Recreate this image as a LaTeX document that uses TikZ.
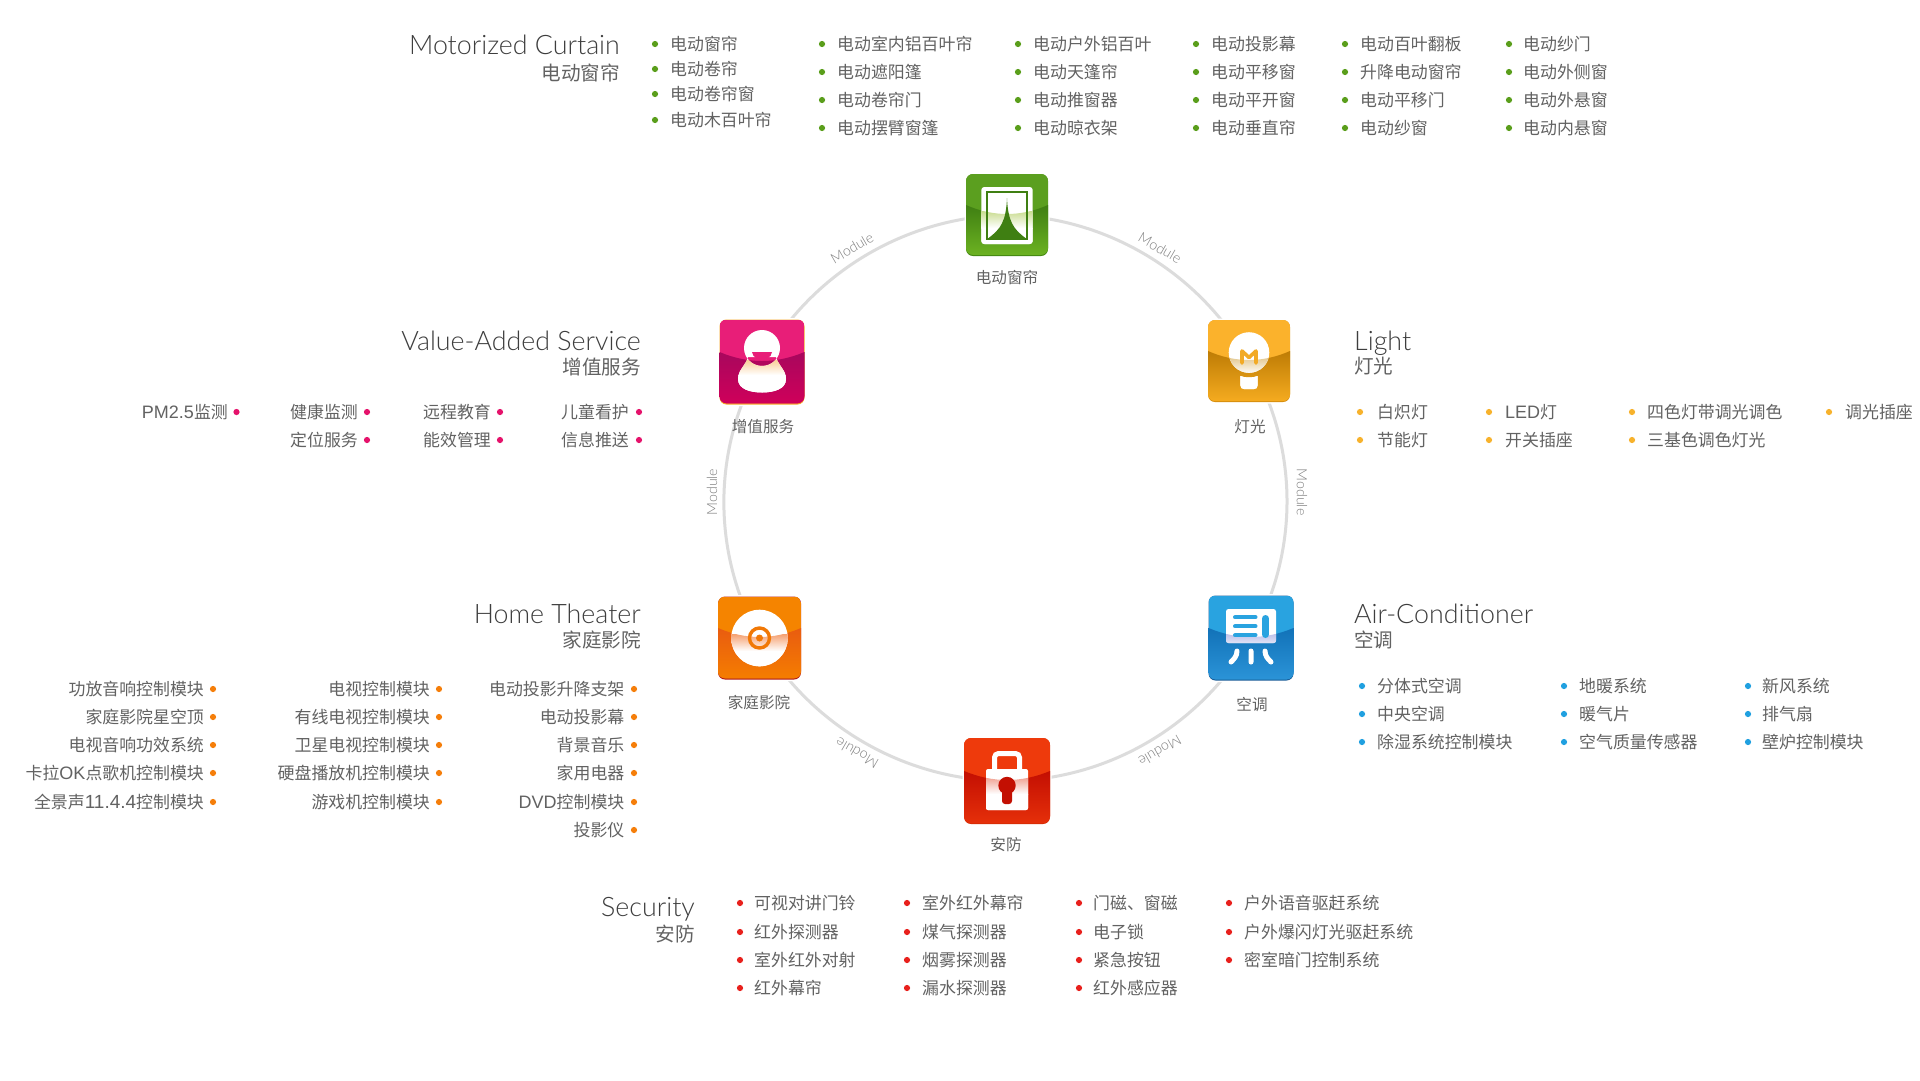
\documentclass[tikz,border=0pt]{standalone}
\usepackage{fontspec}
\setmainfont{Noto Sans CJK SC}
\newfontfamily\latfont{Lato Light}
\newfontfamily\mixlat{Liberation Sans}
\newcommand{\lf}{\mixlat\fontsize{18}{20}\selectfont}
\newcommand{\lfw}{\mixlat\fontsize{19}{20}\selectfont}
\usetikzlibrary{backgrounds}
\definecolor{ink}{HTML}{626262}
\definecolor{titleink}{HTML}{3E3E3E}
\definecolor{ringc}{HTML}{DCDCDC}
\definecolor{modc}{HTML}{7E7E7E}
\definecolor{bgreen}{HTML}{5A9E1B}
\definecolor{byellow}{HTML}{F7B22C}
\definecolor{bpink}{HTML}{E5126B}
\definecolor{borange}{HTML}{F57E0A}
\definecolor{bblue}{HTML}{20A0E0}
\definecolor{bred}{HTML}{E8201C}
% icon palettes: T top, D dark band, L lower, B border, G gloss tint
\definecolor{gT}{HTML}{5B9F1F}\definecolor{gD}{HTML}{3F7F12}\definecolor{gL}{HTML}{6DB322}\definecolor{gB}{HTML}{468A12}\definecolor{gG}{HTML}{C9DC90}
\definecolor{yT}{HTML}{FBB22C}\definecolor{yD}{HTML}{BE7C05}\definecolor{yL}{HTML}{F6AC20}\definecolor{yB}{HTML}{D9900F}\definecolor{yG}{HTML}{E3C78E}
\definecolor{pT}{HTML}{E81E78}\definecolor{pD}{HTML}{A8075D}\definecolor{pL}{HTML}{D0005A}\definecolor{pB}{HTML}{F5A623}\definecolor{pG}{HTML}{F9C98A}
\definecolor{oT}{HTML}{F58400}\definecolor{oD}{HTML}{E95C10}\definecolor{oL}{HTML}{F57E00}\definecolor{oB}{HTML}{B01818}\definecolor{oG}{HTML}{F5A070}
\definecolor{uT}{HTML}{29A3E0}\definecolor{uD}{HTML}{1272B8}\definecolor{uL}{HTML}{2B94D8}\definecolor{uB}{HTML}{1A5C98}\definecolor{uG}{HTML}{BEC2EA}
\definecolor{rT}{HTML}{EE3A0C}\definecolor{rD}{HTML}{C30F02}\definecolor{rL}{HTML}{E6300A}\definecolor{rB}{HTML}{D92C05}\definecolor{rG}{HTML}{F0A090}
\newcounter{itm}
\tikzset{
  x=1pt,y=-1pt,
  listtext/.style={text=ink,inner sep=0pt,font=\fontsize{16.9}{20}\selectfont},
  dotb/.style={circle,inner sep=0pt,minimum size=6.2pt,fill=#1},
  ttl/.style={text=titleink,inner sep=0pt,font=\latfont\fontsize{26.8}{30}\selectfont},
  subttl/.style={text=ink,inner sep=0pt,font=\fontsize{19.6}{23}\selectfont},
  iconlab/.style={text=ink,inner sep=0pt,anchor=base,font=\fontsize{15.6}{19}\selectfont},
  modlab/.style={text=modc,inner sep=0pt,font=\latfont\fontsize{14.2}{16}\selectfont},
  ringarc/.style={draw=ringc,line width=3pt,looseness=0.91},
  iconbody/.style={rectangle,rounded corners=7pt,draw=white,line width=3pt,inner sep=0pt}
}
% left-reading column: bullet x, text x, colour, y/text list
\newcommand{\colL}[4]{\foreach \yy/\ttx in {#4}{\stepcounter{itm}
  \node[dotb=#3] (b\arabic{itm}) at (#1,\yy) {};
  \node[listtext,anchor=base west] (t\arabic{itm}) at (#2,\yy+6.8) {\ttx};}}
% right-aligned column: text right x, bullet x, colour, y/text list
\newcommand{\colR}[4]{\foreach \yy/\ttx in {#4}{\stepcounter{itm}
  \node[dotb=#3] (b\arabic{itm}) at (#2,\yy) {};
  \node[listtext,anchor=base east] (t\arabic{itm}) at (#1,\yy+6.8) {\ttx};}}
% name, cx, cy, half size, palette, glyph path, details
\newcommand{\glossicon}[7]{%
  \node[iconbody,minimum size=2*#4 pt] (#1) at (#2,#3) {};
  \begin{scope}[shift={(#2,#3)}]
    \fill[#5B,rounded corners=7pt] (-#4,-#4) rectangle (#4,#4);
    \begin{scope}
      \clip[rounded corners=7pt] (-#4,-#4) rectangle (#4,#4-1.2);
      \fill[#5T] (-#4,-#4) rectangle (#4,#4);
      \shade[top color=#5D,bottom color=#5L] (-#4,-10) .. controls (-14,2) and (14,2) .. (#4,-10) -- (#4,#4) -- (-#4,#4) -- cycle;
    \end{scope}
    \fill[white] #6;
    \begin{scope}
      \clip #6;
      \clip (-#4,-10) .. controls (-14,2) and (14,2) .. (#4,-10) -- (#4,#4) -- (-#4,#4) -- cycle;
      \shade[top color=#5G,bottom color=white] (-#4,-4) rectangle (#4,13);
      \fill[white] (-#4,13) rectangle (#4,#4);
    \end{scope}
    #7
  \end{scope}}
\begin{document}
\begin{tikzpicture}
\useasboundingbox (0,0) rectangle (1920,1080);
% icons
\glossicon{curtain}{1007}{215}{41}{g}
  {[rounded corners=3pt] (-25.7,-28) rectangle (25.7,29)}
  {\draw[gD,line width=1.2pt] (-20,-23) rectangle (20,24);
   \fill[gD] (0,-17) .. controls (1,6) and (6,14) .. (19,23.4) -- (-19,23.4) .. controls (-6,14) and (-1,6) .. (0,-17) -- cycle;}
\glossicon{light}{1249}{361}{41}{y}
  {(0,-8.5) circle (20.3) (-8.7,15) .. controls (-4,17) and (4,17) .. (8.7,15) -- (8.7,24) .. controls (8.7,27) and (7,28) .. (5,28) -- (-5,28) .. controls (-7,28) and (-8.7,27) .. (-8.7,24) -- cycle}
  {\draw[yT!85!yD,line width=3.6pt,line cap=round,line join=round] (-7,2) -- (-7,-10) -- (0,-3.5) -- (7,-10) -- (7,2);}
\glossicon{service}{762}{362}{42.5}{p}
  {(0,-14) circle (18) (-14,-5) .. controls (-16,3) and (-24,8) .. (-24,17) .. controls (-24,27) and (-12,30.5) .. (0,30.5) .. controls (12,30.5) and (24,27) .. (24,17) .. controls (24,8) and (16,3) .. (14,-5) -- cycle}
  {\fill[pT] (-10,-10) -- (10,-10) .. controls (9,-4) and (4,-2.5) .. (0,-2.5) .. controls (-4,-2.5) and (-9,-4) .. (-10,-10) -- cycle;}
\glossicon{theater}{759.5}{638}{41.5}{o}
  {(0,0) circle (28.3)}
  {\draw[oT!70!oD,line width=3.4pt] (0,0) circle (10);
   \fill[oT!70!oD] (0,0) circle (3.5);}
\glossicon{aircon}{1251}{638}{42.5}{u}
  {[rounded corners=2.5pt] (-25,-29) rectangle (25,5)}
  {\draw[uT,line width=4pt,line cap=round] (-16,-20.7) -- (4.5,-20.7) (-16,-11.7) -- (4.5,-11.7) (-16,-2.7) -- (4.5,-2.7);
   \draw[uT,line width=7pt,line cap=round] (14.5,-19.5) -- (14.5,-3.5);
   \draw[white,line width=5pt,line cap=round] (0,13) -- (0,24) (-14,13) .. controls (-14,18) and (-17,21) .. (-20,24) (14,13) .. controls (14,18) and (17,21) .. (20,24);}
\glossicon{security}{1007}{781}{43}{r}
  {[rounded corners=2pt] (-21,-12) rectangle (21,29)}
  {\draw[white,line width=5pt,rounded corners=4pt] (-12.5,-10) -- (-12.5,-27.5) -- (12.5,-27.5) -- (12.5,-10);
   \fill[rD] (0,4.5) circle (8.7);
   \fill[rD,rounded corners=3pt] (-5,6) -- (-5,23) -- (5,23) -- (5,6) -- cycle;}
% ring (behind the icons)
\begin{scope}[on background layer]
  \fill[white] (0,0) rectangle (1920,1080);
  \draw[ringarc] (curtain.center) to[bend left=30] (light.center);
  \draw[ringarc] (light.center) to[bend left=30] (aircon.center);
  \draw[ringarc] (aircon.center) to[bend left=30] (security.center);
  \draw[ringarc] (security.center) to[bend left=30] (theater.center);
  \draw[ringarc] (theater.center) to[bend left=30] (service.center);
  \draw[ringarc] (service.center) to[bend left=30] (curtain.center);
\end{scope}
% module labels
\node[modlab,rotate=-30] (m1) at (1160,248) {Module};
\node[modlab,rotate=-90] (m2) at (1302,492) {Module};
\node[modlab,rotate=210] (m3) at (1160,751) {Module};
\node[modlab,rotate=150] (m4) at (857,753) {Module};
\node[modlab,rotate=90] (m5) at (712,492) {Module};
\node[modlab,rotate=30] (m6) at (852,248) {Module};
% icon labels
\node[iconlab] (l1) at (1007,283.5) {电动窗帘};
\node[iconlab] (l2) at (1250,432.5) {灯光};
\node[iconlab] (l3) at (763,432.5) {增值服务};
\node[iconlab] (l4) at (759,708) {家庭影院};
\node[iconlab] (l5) at (1252,710.5) {空调};
\node[iconlab] (l6) at (1006,850) {安防};
% titles
\node[ttl,anchor=base east] (h1) at (620,54.5) {Motorized Curtain};
\node[subttl,anchor=base east] (s1) at (620,80) {电动窗帘};
\node[ttl,anchor=base west] (h2) at (1354,350) {Light};
\node[subttl,anchor=base west] (s2) at (1354,373.5) {灯光};
\node[ttl,anchor=base east] (h3) at (641,350) {Value-Added Service};
\node[subttl,anchor=base east] (s3) at (641,374) {增值服务};
\node[ttl,anchor=base east] (h4) at (641,623) {Home Theater};
\node[subttl,anchor=base east] (s4) at (641,647) {家庭影院};
\node[ttl,anchor=base west] (h5) at (1354,623) {Air-Conditioner};
\node[subttl,anchor=base west] (s5) at (1354,647) {空调};
\node[ttl,anchor=base east] (h6) at (695,916) {Security};
\node[subttl,anchor=base east] (s6) at (695,941) {安防};
% lists
\colL{655}{670}{bgreen}{44/电动窗帘,69/电动卷帘,94/电动卷帘窗,120/电动木百叶帘}
\colL{822}{837}{bgreen}{44/电动室内铝百叶帘,72/电动遮阳篷,100/电动卷帘门,128/电动摆臂窗篷}
\colL{1018}{1033}{bgreen}{44/电动户外铝百叶,72/电动天篷帘,100/电动推窗器,128/电动晾衣架}
\colL{1196}{1211}{bgreen}{44/电动投影幕,72/电动平移窗,100/电动平开窗,128/电动垂直帘}
\colL{1345}{1360}{bgreen}{44/电动百叶翻板,72/升降电动窗帘,100/电动平移门,128/电动纱窗}
\colL{1509}{1523}{bgreen}{44/电动纱门,72/电动外侧窗,100/电动外悬窗,128/电动内悬窗}
\colL{1360}{1377}{byellow}{412/白炽灯,440/节能灯}
\colL{1489}{1505}{byellow}{412/{\lf LED}灯,440/开关插座}
\colL{1632}{1647}{byellow}{412/四色灯带调光调色,440/三基色调色灯光}
\colL{1829}{1845}{byellow}{412/调光插座}
\colR{228}{236.5}{bpink}{412/{\lf PM2.5}监测}
\colR{358}{367}{bpink}{412/健康监测,440/定位服务}
\colR{491}{500}{bpink}{412/远程教育,440/能效管理}
\colR{629}{639}{bpink}{412/儿童看护,440/信息推送}
\colR{204}{213}{borange}{689/功放音响控制模块,717/家庭影院星空顶,745/电视音响功效系统,773/卡拉{\lf OK}点歌机控制模块,802/全景声{\lfw 11.4.4}控制模块}
\colR{430}{439}{borange}{689/电视控制模块,717/有线电视控制模块,745/卫星电视控制模块,773/硬盘播放机控制模块,802/游戏机控制模块}
\colR{624.5}{634}{borange}{689/电动投影升降支架,717/电动投影幕,745/背景音乐,773/家用电器,802/{\lf DVD}控制模块,830/投影仪}
\colL{1362}{1377}{bblue}{686/分体式空调,714/中央空调,742/除湿系统控制模块}
\colL{1564}{1579}{bblue}{686/地暖系统,714/暖气片,742/空气质量传感器}
\colL{1748}{1762}{bblue}{686/新风系统,714/排气扇,742/壁炉控制模块}
\colL{740}{754}{bred}{903/可视对讲门铃,932/红外探测器,960/室外红外对射,988/红外幕帘}
\colL{907}{922}{bred}{903/室外红外幕帘,932/煤气探测器,960/烟雾探测器,988/漏水探测器}
\colL{1079}{1093}{bred}{903/门磁、窗磁,932/电子锁,960/紧急按钮,988/红外感应器}
\colL{1229}{1244}{bred}{903/户外语音驱赶系统,932/户外爆闪灯光驱赶系统,960/密室暗门控制系统}
\end{tikzpicture}
\end{document}
